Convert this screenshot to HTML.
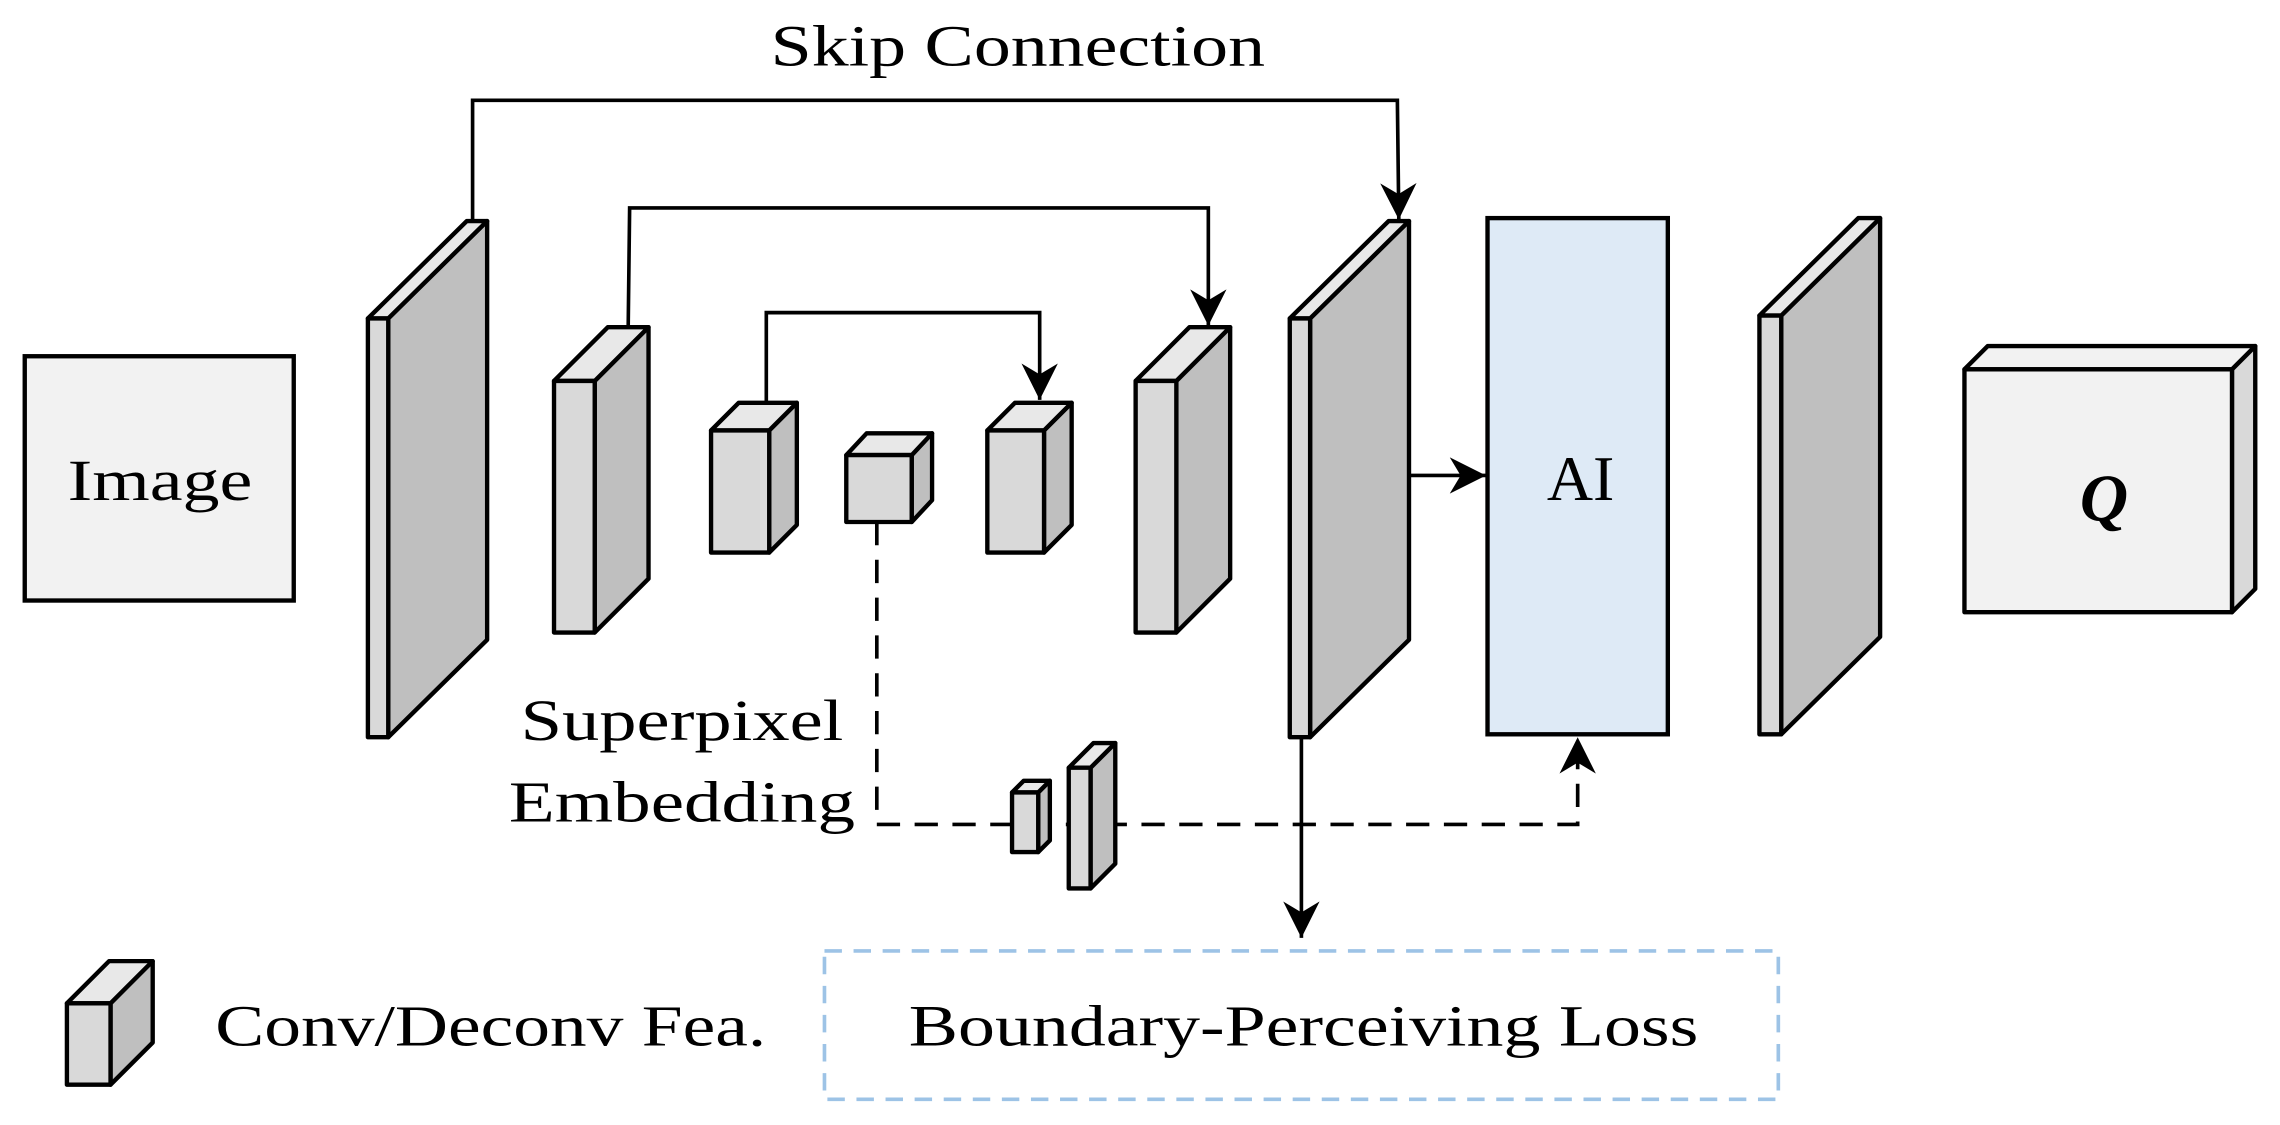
<!DOCTYPE html>
<html><head><meta charset="utf-8"><style>html,body{margin:0;padding:0;background:#fff}svg{display:block}</style></head>
<body>
<svg width="2280" height="1125" viewBox="0 0 1568 773.7" xmlns="http://www.w3.org/2000/svg" font-family="'Liberation Serif', serif">
<defs>
<marker id="ah" markerWidth="10" markerHeight="10" refX="10" refY="5" orient="auto" markerUnits="strokeWidth"><path d="M0,0 L10,5 L0,10 L3,5 z" fill="#000"/></marker>
</defs>
<g stroke="#000" stroke-width="3" stroke-linejoin="miter">
<rect x="17" y="245" width="185" height="168" fill="#f2f2f2"/>
</g>
<g id="cubes" stroke="#000" stroke-width="3" stroke-linejoin="round"></g>
<g fill="none" stroke="#000" stroke-width="2.5">
<polyline points="325,152 325,69 961,69 962,151" marker-end="url(#ah)"/>
<polyline points="432,226 433,143 831,143 831,224" marker-end="url(#ah)"/>
<polyline points="527,277 527,215 715,215 715,275" marker-end="url(#ah)"/>
<line x1="969" y1="327" x2="1022" y2="327" marker-end="url(#ah)"/>
<line x1="895" y1="507" x2="895" y2="645" marker-end="url(#ah)"/>
<polyline points="603,359 603,567 1085,567 1085,507" stroke-dasharray="16,10" marker-end="url(#ah)"/>
</g>
<g id="cubes2" stroke="#000" stroke-width="3" stroke-linejoin="round"></g>
<rect x="567" y="654" width="656" height="102" fill="none" stroke="#9dc3e6" stroke-width="2.5" stroke-dasharray="12,8"/>
<rect x="1023" y="150" width="124" height="355" fill="#deeaf6" stroke="#000" stroke-width="3"/>
<g font-size="40" fill="#000">
<text x="700" y="45" text-anchor="middle" textLength="340" lengthAdjust="spacingAndGlyphs">Skip Connection</text>
<text x="110" y="344" text-anchor="middle" textLength="127" lengthAdjust="spacingAndGlyphs">Image</text>
<text x="1087" y="344" text-anchor="middle" font-size="44">AI</text>
<text x="1447" y="358" text-anchor="middle" font-size="46" font-style="italic" font-weight="bold">Q</text>
<text x="469" y="509" text-anchor="middle" textLength="222" lengthAdjust="spacingAndGlyphs">Superpixel</text>
<text x="469" y="565" text-anchor="middle" textLength="238" lengthAdjust="spacingAndGlyphs">Embedding</text>
<text x="148" y="719" textLength="379" lengthAdjust="spacingAndGlyphs">Conv/Deconv Fea.</text>
<text x="625" y="719" textLength="543" lengthAdjust="spacingAndGlyphs">Boundary-Perceiving Loss</text>
</g>
<script>
function cube(id,x1,y1,x2,y2,d,e,front,side,top){
 var g=document.getElementById(id);
 var ns='http://www.w3.org/2000/svg';
 function p(pts,f){var el=document.createElementNS(ns,'polygon');el.setAttribute('points',pts);el.setAttribute('fill',f);g.appendChild(el);}
 p(x2+','+y1+' '+(x2+d)+','+(y1-e)+' '+(x2+d)+','+(y2-e)+' '+x2+','+y2, side||'#bfbfbf');
 p(x1+','+y1+' '+(x1+d)+','+(y1-e)+' '+(x2+d)+','+(y1-e)+' '+x2+','+y1, top||'#e8e8e8');
 p(x1+','+y1+' '+x2+','+y1+' '+x2+','+y2+' '+x1+','+y2, front||'#d9d9d9');
}
cube('cubes',253,219,267,507,68,67);
cube('cubes',381,262,409,435,37,37);
cube('cubes',489,296,529,380,19,19);
cube('cubes',582,313,627,359,14,15);
cube('cubes',679,296,718,380,19,19);
cube('cubes',781,262,809,435,37,37);
cube('cubes',887,219,901,507,68,67);
cube('cubes',1210,217,1225,505,68,67);
cube('cubes',1351,254,1535,421,16,16,'#f2f2f2','#d9d9d9','#f2f2f2');
cube('cubes2',696,545,714,586,8,8);
cube('cubes2',735,528,750,611,17,17);
cube('cubes',46,690,76,746,29,29);
</script>
</svg>
</body></html>
